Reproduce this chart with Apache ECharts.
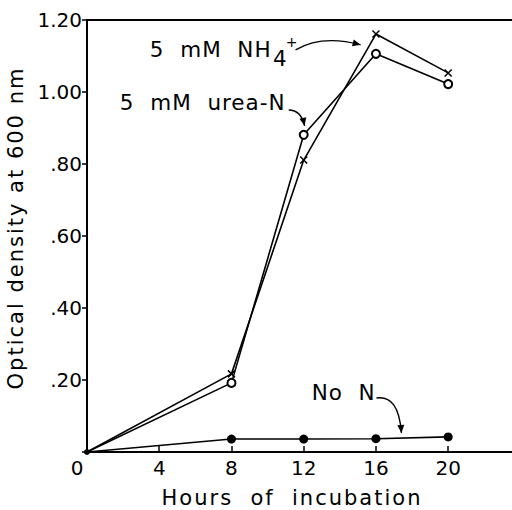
<!DOCTYPE html>
<html>
<head>
<meta charset="utf-8">
<script src="https://cdn.jsdelivr.net/npm/echarts@6/dist/echarts.min.js"></script>
<style>
html,body{margin:0;padding:0;background:#fff;}
#c{width:512px;height:510px;}
svg text{white-space:pre;}
svg text[style*="21px"]{letter-spacing:2px;}
svg text[style*="21.5px"]{letter-spacing:1px;}
</style>
</head>
<body>
<div id="c"></div>
<script>
// ---- data ----
var hours = [0, 8, 12, 16, 20];
var nh4 = [0, 0.217, 0.811, 1.161, 1.053];
var urea = [0, 0.192, 0.881, 1.106, 1.022];
var noN = [0, 0.036, 0.036, 0.037, 0.042];
var xTicks = [0, 4, 8, 12, 16, 20];
var yTicks = [0.2, 0.4, 0.6, 0.8, 1.0, 1.2];
var xTitle = 'Hours  of  incubation';
var yTitle = 'Optical density at 600 nm';
// annotation anchors in data units [hours, OD]
var annNH4 = {text: '5  mM  NH', at: [3.48, 1.119]};
var annNH4sub = {text: '4', at: [10.3, 1.094]};
var annNH4sup = {text: '+', at: [11.0, 1.138]};
var annUrea = {text: '5  mM  urea-N', at: [1.82, 0.971]};
var annNoN = {text: 'No  N', at: [12.44, 0.164]};
var arrows = [
  {from: [11.55, 1.117], ctrl: [13.0, 1.16], to: [15.15, 1.131]},
  {from: [11.17, 0.95], ctrl: [11.85, 0.95], to: [12.05, 0.906]},
  {from: [16.03, 0.15], ctrl: [17.25, 0.16], to: [17.41, 0.053]}
];

var FONT = 'DejaVu Sans';
function pair(xs, ys) { return xs.map(function (x, i) { return [x, ys[i]]; }); }
var crossPath = 'path://M0,0L10,10M10,0L0,10';

function mkData(ys, hideFirst, firstSize) {
  return pair(hours, ys).map(function (p, i) {
    if (i === 0 && hideFirst) return {value: p, symbol: 'none'};
    if (i === 0 && firstSize) return {value: p, symbolSize: firstSize};
    return p;
  });
}

var chart = echarts.init(document.getElementById('c'), null, {renderer: 'svg'});
var option = {
  animation: false,
  backgroundColor: '#fff',
  grid: {left: 87, top: 20, right: -3, bottom: 58, show: true, borderColor: '#000', borderWidth: 1.8,
         containLabel: false, outerBoundsMode: 'none'},
  xAxis: {
    type: 'value', min: 0, max: 23.7, interval: 4,
    splitLine: {show: false},
    axisLine: {lineStyle: {color: '#000', width: 1.8}},
    axisTick: {inside: true, length: 6, lineStyle: {color: '#000', width: 1.5}},
    axisLabel: {
      color: '#000', fontFamily: FONT, fontSize: 20, margin: 6, showMaxLabel: false,
      formatter: function (v) {
        if (xTicks.indexOf(v) < 0) return '';
        return v === 0 ? '{z|0}' : String(v);
      },
      rich: {z: {fontFamily: FONT, fontSize: 20, color: '#000', padding: [0, 20, 0, 0]}}
    },
    name: xTitle, nameLocation: 'middle', nameGap: 35,
    nameTextStyle: {color: '#000', fontFamily: FONT, fontSize: 21, lineHeight: 21, padding: [0, 18, 0, 0]}
  },
  yAxis: {
    type: 'value', min: 0, max: 1.2, interval: 0.2,
    splitLine: {show: false},
    axisLine: {lineStyle: {color: '#000', width: 1.8}},
    axisTick: {inside: false, length: 5, lineStyle: {color: '#000', width: 1.5}},
    axisLabel: {
      color: '#000', fontFamily: FONT, fontSize: 20, margin: 5,
      formatter: function (v) {
        var r = Math.round(v * 100) / 100;
        if (r === 0) return '';
        var s = r.toFixed(2);
        return r < 1 ? s.slice(1) : s;
      }
    },
    name: yTitle, nameLocation: 'middle', nameGap: 47,
    nameTextStyle: {color: '#000', fontFamily: FONT, fontSize: 21, padding: [0, 0, 0, 16]}
  },
  series: [
    {
      type: 'line', name: 'NH4', data: mkData(nh4, true),
      symbol: crossPath, symbolSize: 7,
      lineStyle: {color: '#000', width: 1.6},
      itemStyle: {color: '#000', borderColor: '#000', borderWidth: 1.5}
    },
    {
      type: 'line', name: 'urea', data: mkData(urea, true),
      symbol: 'emptyCircle', symbolSize: 8,
      lineStyle: {color: '#000', width: 1.6},
      itemStyle: {color: '#000', borderColor: '#000', borderWidth: 1.5}
    },
    {
      type: 'line', name: 'noN', data: mkData(noN, false, 6),
      symbol: 'circle', symbolSize: 9,
      lineStyle: {color: '#000', width: 1.6},
      itemStyle: {color: '#000'}
    }
  ]
};
chart.setOption(option);

function px(p) { return chart.convertToPixel({gridIndex: 0}, p); }
function textEl(a, size) {
  var p = px(a.at);
  return {
    type: 'text', x: p[0], y: p[1], silent: true,
    style: {text: a.text, fill: '#000', font: size + 'px "' + FONT + '"', textAlign: 'left', textVerticalAlign: 'middle'}
  };
}
var g = [];
g.push(textEl(annNH4, 21.5));
g.push(textEl(annNH4sub, 21.5));
g.push(textEl(annNH4sup, 14));
g.push(textEl(annUrea, 21.5));
g.push(textEl(annNoN, 21.5));
arrows.forEach(function (a) {
  var s = px(a.from), c = px(a.ctrl), e = px(a.to);
  g.push({
    type: 'bezierCurve', silent: true,
    shape: {x1: s[0], y1: s[1], cpx1: c[0], cpy1: c[1], x2: e[0], y2: e[1]},
    style: {stroke: '#000', lineWidth: 1.4, fill: 'none'}
  });
  var ang = Math.atan2(e[1] - c[1], e[0] - c[0]);
  var L = 8, W = 3.5;
  var bx = e[0] - L * Math.cos(ang), by = e[1] - L * Math.sin(ang);
  var nx = -Math.sin(ang) * W, ny = Math.cos(ang) * W;
  g.push({
    type: 'polygon', silent: true,
    shape: {points: [[e[0], e[1]], [bx + nx, by + ny], [bx - nx, by - ny]]},
    style: {fill: '#000'}
  });
});
chart.setOption({graphic: g});
</script>
</body>
</html>
